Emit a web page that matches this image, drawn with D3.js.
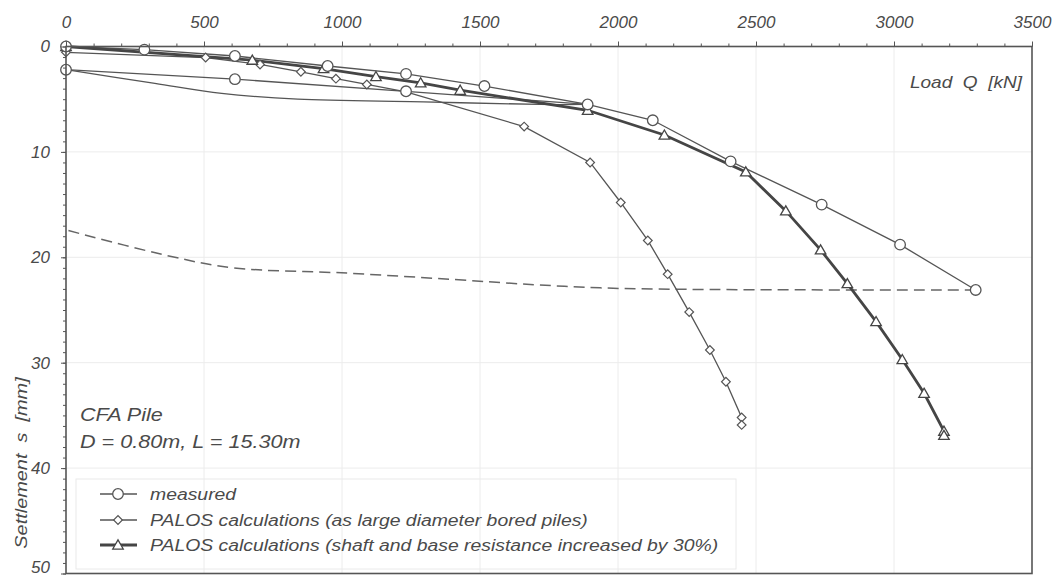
<!DOCTYPE html>
<html>
<head>
<meta charset="utf-8">
<script src="https://cdn.jsdelivr.net/npm/d3@7/dist/d3.min.js"></script>
<style>
  body { margin: 0; background: #fff; }
  text { font-family: "Liberation Sans", Arial, sans-serif; font-style: italic; fill: #4a4a4a; white-space: pre; }
</style>
</head>
<body>
<div id="chart"></div>
<script>
// load Q [kN] / settlement s [mm]
const measured = [
  [0, 0], [284, 0.3], [612, 0.9], [948, 1.85], [1232, 2.6], [1516, 3.75], [1890, 5.5],
  [2126, 7.0], [2408, 10.9], [2738, 15.0], [3022, 18.8], [3296, 23.1]
];
// unloading / reloading loops of the test (no markers on the unload branches)
const unload1 = [[1890, 5.5], [1717, 5.5], [1295, 5.25], [840, 5.0], [564, 4.45], [322, 3.5], [0, 2.2]];
const reload1 = [[0, 2.2], [612, 3.1], [1232, 4.25], [1890, 5.5]];
const unload2 = [[3296, 23.1], [2297, 23.05], [1935, 22.9], [1700, 22.6], [1400, 22.1], [1018, 21.5], [605, 21.0], [377, 19.9], [0, 17.4]];

const palosBored = [
  [0, 0.55], [506, 1.05], [703, 1.7], [851, 2.4], [978, 3.05], [1090, 3.6], [1232, 4.3],
  [1660, 7.6], [1899, 11.0], [2010, 14.8], [2108, 18.4], [2180, 21.6], [2258, 25.2],
  [2333, 28.8], [2391, 31.8], [2448, 35.2], [2448, 35.9]
];
const palosPlus30 = [
  [0, 0], [675, 1.3], [933, 2.1], [1123, 2.85], [1285, 3.45], [1428, 4.15], [1890, 6.05],
  [2168, 8.4], [2463, 11.9], [2608, 15.6], [2734, 19.3], [2831, 22.5], [2935, 26.1],
  [3030, 29.7], [3109, 32.9], [3181, 36.5], [3181, 36.9]
];

const xTicks = [0, 500, 1000, 1500, 2000, 2500, 3000, 3500];
const yTicks = [0, 10, 20, 30, 40, 50];
const legendLabels = [
  "measured",
  "PALOS calculations (as large diameter bored piles)",
  "PALOS calculations (shaft and base resistance increased by 30%)"
];
const noteLines = ["CFA Pile", "D = 0.80m, L = 15.30m"];

const width = 1053, height = 578;
const plotLeft = 66, plotRight = 1032, plotTop = 46.5, plotBottom = 573.5;

const svg = d3.select("#chart").append("svg")
  .attr("width", width)
  .attr("height", height);

const x = d3.scaleLinear().domain([0, 3500]).range([plotLeft, plotRight]);
const y = d3.scaleLinear().domain([0, 50]).range([plotTop, plotBottom]);

// faint grid
svg.append("g")
  .selectAll("line")
  .data(xTicks.slice(1, -1))
  .join("line")
  .attr("x1", d => x(d)).attr("x2", d => x(d))
  .attr("y1", plotTop).attr("y2", plotBottom)
  .attr("stroke", "#ececec");
svg.append("g")
  .selectAll("line")
  .data(yTicks.slice(1, -1))
  .join("line")
  .attr("y1", d => y(d)).attr("y2", d => y(d))
  .attr("x1", plotLeft).attr("x2", plotRight)
  .attr("stroke", "#ececec");

const line = d3.line().x(d => x(d[0])).y(d => y(d[1]));
const smooth = d3.line().x(d => x(d[0])).y(d => y(d[1])).curve(d3.curveCatmullRom);

svg.append("path").datum(unload2)
  .attr("d", smooth).attr("fill", "none")
  .attr("stroke", "#666").attr("stroke-width", 1.5)
  .attr("stroke-dasharray", "11,6");
svg.append("path").datum(unload1)
  .attr("d", smooth).attr("fill", "none")
  .attr("stroke", "#555").attr("stroke-width", 1.3);
svg.append("path").datum(reload1)
  .attr("d", line).attr("fill", "none")
  .attr("stroke", "#555").attr("stroke-width", 1.3);
svg.append("path").datum(palosBored)
  .attr("d", line).attr("fill", "none")
  .attr("stroke", "#555").attr("stroke-width", 1.3);
svg.append("path").datum(measured)
  .attr("d", line).attr("fill", "none")
  .attr("stroke", "#555").attr("stroke-width", 1.3);
svg.append("path").datum(palosPlus30)
  .attr("d", line).attr("fill", "none")
  .attr("stroke", "#454545").attr("stroke-width", 2.8);

const diamond = d3.symbol().type(d3.symbolSquare).size(38);
const tri = d3.symbol().type(d3.symbolTriangle).size(48);

svg.append("g").selectAll("path")
  .data(palosBored)
  .join("path")
  .attr("d", diamond)
  .attr("transform", d => `translate(${x(d[0])},${y(d[1])}) rotate(45)`)
  .attr("fill", "#fff").attr("stroke", "#555").attr("stroke-width", 1.2);

svg.append("g").selectAll("path")
  .data(palosPlus30)
  .join("path")
  .attr("d", tri)
  .attr("transform", d => `translate(${x(d[0])},${y(d[1]) + 1})`)
  .attr("fill", "#fff").attr("stroke", "#454545").attr("stroke-width", 1.3);

svg.append("g").selectAll("circle")
  .data(measured.concat(reload1.slice(0, 3)))
  .join("circle")
  .attr("cx", d => x(d[0])).attr("cy", d => y(d[1]))
  .attr("r", 5.3)
  .attr("fill", "#fff").attr("stroke", "#555").attr("stroke-width", 1.3);

// axes
const axisColor = "#555";
const styleAxis = g => {
  g.select(".domain").remove();
  g.selectAll("line").attr("stroke", axisColor);
  g.selectAll("text").attr("font-size", 17).attr("fill", "#4a4a4a")
    .attr("font-family", "Liberation Sans, Arial, sans-serif").attr("font-style", "italic");
};

svg.append("g")
  .attr("transform", `translate(0,${plotTop})`)
  .call(d3.axisTop(x).tickValues(d3.range(0, 3501, 100)).tickSize(3).tickFormat(""))
  .call(styleAxis);
svg.append("g")
  .attr("transform", `translate(0,${plotTop})`)
  .call(d3.axisTop(x).tickValues(xTicks).tickSize(5).tickPadding(14).tickFormat(d3.format("d")))
  .call(styleAxis);

svg.append("g")
  .attr("transform", `translate(${plotLeft},0)`)
  .call(d3.axisLeft(y).tickValues(d3.range(0, 51, 1)).tickSize(3).tickFormat(""))
  .call(styleAxis);
svg.append("g")
  .attr("transform", `translate(${plotLeft},0)`)
  .call(d3.axisLeft(y).tickValues(yTicks).tickSize(5).tickPadding(11).tickFormat(d3.format("d")))
  .call(styleAxis)
  .call(g => g.selectAll(".tick text").filter(d => d === 50).attr("dy", "-0.05em"));

// frame
svg.append("rect")
  .attr("x", plotLeft).attr("y", plotTop)
  .attr("width", plotRight - plotLeft).attr("height", plotBottom - plotTop)
  .attr("fill", "none").attr("stroke", axisColor).attr("stroke-width", 1.6);

// scanned lettering is a little wider than Liberation Sans
const stretched = (sel, px, py, sx, fs, anchor) => sel
  .attr("transform", `translate(${px},${py}) scale(${sx},1)`)
  .attr("font-size", fs)
  .attr("text-anchor", anchor || "start");

// axis titles
svg.append("text")
  .call(stretched, plotRight - 10, 88, 1.12, 17, "end")
  .text("Load  Q  [kN]");
svg.append("text")
  .attr("transform", "translate(27,463) rotate(-90) scale(1.17,1)")
  .attr("text-anchor", "middle").attr("font-size", 17)
  .attr("fill", "#777")
  .text("Settlement  s  [mm]");

// pile note
svg.append("g").selectAll("text")
  .data(noteLines)
  .join("text")
  .each(function(d, i) { d3.select(this).call(stretched, 80, 421 + i * 27, 1.2, 18); })
  .text(d => d);

// legend
svg.append("rect")
  .attr("x", 76).attr("y", 479).attr("width", 660).attr("height", 90)
  .attr("fill", "none").attr("stroke", "#eaeaea");

const legY = [494, 520, 545];
const leg = svg.append("g");
legendLabels.forEach((label, i) => {
  const yy = legY[i];
  leg.append("line")
    .attr("x1", 100).attr("x2", 137).attr("y1", yy).attr("y2", yy)
    .attr("stroke", i === 2 ? "#454545" : "#555")
    .attr("stroke-width", i === 2 ? 2.8 : 1.3);
  if (i === 0) {
    leg.append("circle").attr("cx", 118).attr("cy", yy).attr("r", 5.3)
      .attr("fill", "#fff").attr("stroke", "#555").attr("stroke-width", 1.3);
  } else if (i === 1) {
    leg.append("path").attr("d", diamond)
      .attr("transform", `translate(118,${yy}) rotate(45)`)
      .attr("fill", "#fff").attr("stroke", "#555").attr("stroke-width", 1.2);
  } else {
    leg.append("path").attr("d", tri)
      .attr("transform", `translate(118,${yy + 1})`)
      .attr("fill", "#fff").attr("stroke", "#454545").attr("stroke-width", 1.3);
  }
  leg.append("text")
    .call(stretched, 150, yy + 6, 1.14, 17)
    .text(label);
});
</script>
</body>
</html>
